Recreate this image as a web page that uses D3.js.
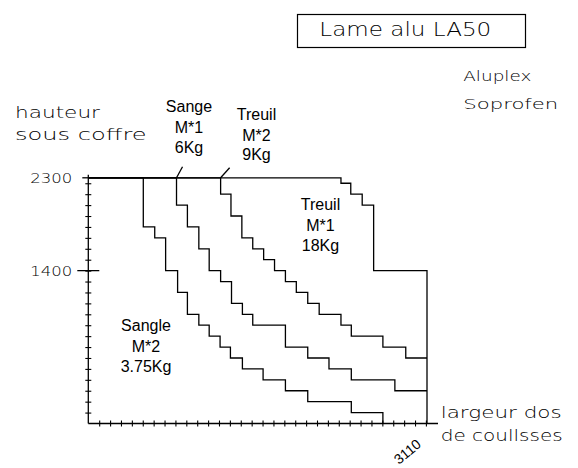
<!DOCTYPE html>
<html>
<head>
<meta charset="utf-8">
<script src="https://cdn.jsdelivr.net/npm/d3@7"></script>
<style>
body { margin: 0; background: #fff; }
svg { display: block; }
.cad { font-family: "DejaVu Sans", sans-serif; font-weight: 200; fill: #000; }
.lbl { font-family: "Liberation Sans", Arial, sans-serif; font-size: 16px; fill: #000; }
.trace { fill: none; stroke: #000; stroke-width: 1.3; }
</style>
</head>
<body>
<script>
//data (widths in mm along "largeur", heights in mm along "hauteur")
var capHeight = 2250;      // plateau of the drawing, labelled 2300
var maxWidth = 3110;
var yTickValues = [1400, capHeight];
var yTickLabels = ['1400', '2300'];
var yMinor = d3.range(100, 2300, 100);
var xMinor = d3.range(100, 3101, 100);

// Sangle M*2 3.75Kg
var sangleM2W = [505, 610, 710, 820, 910, 1015, 1110, 1210, 1305, 1415, 1605, 1810, 2015, 2415, 2705];
var sangleM2H = [1800, 1700, 1400, 1200, 1000, 900, 800, 700, 600, 500, 400, 300, 200, 100, 0];
// Sange M*1 6Kg
var sangeM1W = [810, 910, 1015, 1110, 1215, 1315, 1415, 1510, 1810, 2015, 2210, 2415, 2815, 3110];
var sangeM1H = [2000, 1800, 1600, 1400, 1300, 1100, 1000, 900, 700, 600, 500, 400, 300, 300];
// Treuil M*2 9Kg
var treuilM2W = [1215, 1310, 1410, 1510, 1610, 1710, 1810, 1910, 2015, 2120, 2320, 2415, 2705, 2915, 3110];
var treuilM2H = [2100, 1900, 1700, 1600, 1500, 1400, 1300, 1200, 1100, 1000, 900, 800, 700, 600, 600];
// Treuil M*1 18Kg
var treuilM1W = [2320, 2410, 2515, 2620, 3110];
var treuilM1H = [2200, 2100, 2000, 1400, 0];
//end data

var svg = d3.select('body').append('svg')
    .attr('width', 578)
    .attr('height', 468);

var x = d3.scaleLinear().domain([0, maxWidth]).range([88.3, 427]);
var y = d3.scaleLinear().domain([0, capHeight]).range([423.5, 177.8]);

//turn width/height arrays into step points starting on the plateau
function toPoints(ws, hs) {
    var pts = [{w: 0, h: capHeight}];
    ws.forEach(function (w, i) { pts.push({w: w, h: hs[i]}); });
    return pts;
}
var lineFunc = d3.line()
    .x(function (d) { return x(d.w); })
    .y(function (d) { return y(d.h); })
    .curve(d3.curveStepAfter);

var curves = [
    toPoints(sangleM2W, sangleM2H),
    toPoints(sangeM1W, sangeM1H),
    toPoints(treuilM2W, treuilM2H),
    toPoints(treuilM1W, treuilM1H)
];
svg.append('g').selectAll('path')
    .data(curves)
    .enter().append('path')
    .attr('class', 'trace')
    .attr('d', lineFunc);

//axes lines
var gAxes = svg.append('g');
gAxes.append('line').attr('class', 'trace')
    .attr('x1', x(0)).attr('x2', x(0))
    .attr('y1', y(0)).attr('y2', y(capHeight) - 3);
gAxes.append('line').attr('class', 'trace')
    .attr('x1', x(0)).attr('x2', x(maxWidth) + 11)
    .attr('y1', y(0)).attr('y2', y(0));

//small crossing ticks (both sides of each axis)
function minorAxis(axis, tx, ty) {
    var g = svg.append('g')
        .attr('transform', 'translate(' + tx + ',' + ty + ')')
        .call(axis.tickSize(3).tickFormat(''));
    g.select('.domain').remove();
    g.selectAll('line').attr('stroke', '#000').attr('stroke-width', 1.1);
}
minorAxis(d3.axisLeft(y).tickValues(yMinor), x(0), 0);
minorAxis(d3.axisRight(y).tickValues(yMinor), x(0), 0);
minorAxis(d3.axisBottom(x).tickValues(xMinor), 0, y(0));
minorAxis(d3.axisTop(x).tickValues(xMinor), 0, y(0));

//labelled y ticks
var gYLab = svg.append('g')
    .attr('transform', 'translate(' + x(0) + ',0)')
    .call(d3.axisLeft(y).tickValues(yTickValues)
        .tickSize(0).tickPadding(16)
        .tickFormat(function (d, i) { return yTickLabels[i]; }));
gYLab.select('.domain').remove();
gYLab.selectAll('text')
    .attr('class', 'cad')
    .attr('fill', '#000')
    .style('font-size', '14.5px')
    .attr('textLength', 42)
    .attr('lengthAdjust', 'spacingAndGlyphs');
gAxes.append('line').attr('class', 'trace')
    .attr('x1', x(0) - 11).attr('x2', x(0) + 11)
    .attr('y1', y(1400)).attr('y2', y(1400));
gAxes.append('line').attr('class', 'trace')
    .attr('x1', x(0) - 6).attr('x2', x(0))
    .attr('y1', y(capHeight)).attr('y2', y(capHeight));

//leader lines to curve labels
[[sangeM1W[0], 6, -11], [treuilM2W[0], 9, -10]].forEach(function (d) {
    gAxes.append('line').attr('class', 'trace')
        .attr('x1', x(d[0])).attr('y1', y(capHeight))
        .attr('x2', x(d[0]) + d[1]).attr('y2', y(capHeight) + d[2]);
});

//curve labels
function stack(lines, cx, ys) {
    lines.forEach(function (t, i) {
        svg.append('text').attr('class', 'lbl')
            .attr('x', cx).attr('y', ys[i])
            .attr('text-anchor', 'middle')
            .text(t);
    });
}
stack(['Sange', 'M*1', '6Kg'], 189, [111.7, 132.7, 153.3]);
stack(['Treuil', 'M*2', '9Kg'], 256.5, [120, 141, 160]);
stack(['Treuil', 'M*1', '18Kg'], 320.5, [210, 230.5, 250.7]);
stack(['Sangle', 'M*2', '3.75Kg'], 146, [330.7, 351.7, 371.7]);

svg.append('text').attr('class', 'lbl')
    .attr('transform', 'translate(399,465) rotate(-40)')
    .style('font-size', '14px')
    .text(String(maxWidth));

//CAD style texts
function cadText(t, tx, ty, size, len) {
    svg.append('text').attr('class', 'cad')
        .attr('x', tx).attr('y', ty)
        .style('font-size', size + 'px')
        .attr('textLength', len)
        .attr('lengthAdjust', 'spacingAndGlyphs')
        .text(t);
}
svg.append('rect')
    .attr('x', 297.5).attr('y', 14.5)
    .attr('width', 228).attr('height', 33)
    .attr('fill', 'none').attr('stroke', '#000').attr('stroke-width', 1.2);
cadText('Lame alu LA50', 319.3, 36, 19, 172);
cadText('Aluplex', 463.3, 80.7, 14.5, 68);
cadText('Soprofen', 463.3, 109.3, 14.5, 95);
cadText('hauteur', 15, 118.3, 15, 85);
cadText('sous coffre', 15, 140, 15, 131.7);
cadText('largeur dos', 440.7, 417.7, 15, 121);
cadText('de coullsses', 440.7, 440.5, 15, 122);
</script>
</body>
</html>
